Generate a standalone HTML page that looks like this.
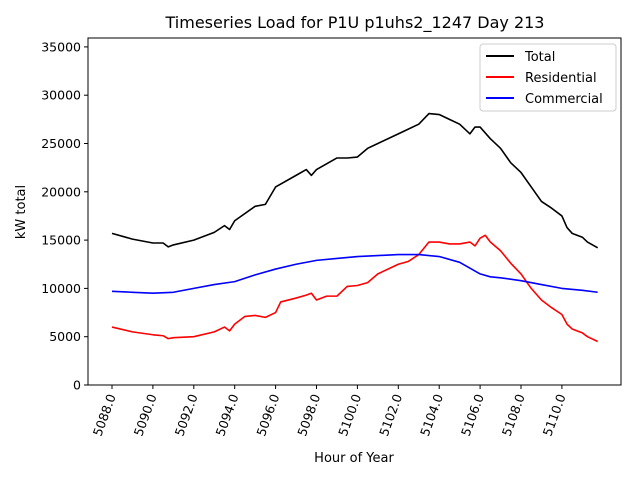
<!DOCTYPE html>
<html><head><meta charset="utf-8"><style>body{margin:0;background:#fff}svg{display:block}text{font-family:"DejaVu Sans","Liberation Sans",sans-serif}</style></head>
<body>
<svg id="chart" width="640" height="480" viewBox="0 0 640 480">
<rect width="640" height="480" fill="#fff"/>
<text x="355" y="28" font-size="16" text-anchor="middle">Timeseries Load for P1U p1uhs2_1247  Day 213</text>
<g id="yticks"></g><g id="xticks"></g>
<g id="series"></g>
<rect x="88" y="38" width="533" height="347" fill="none" stroke="#000" stroke-width="1"/>
<text x="354" y="462" font-size="13" text-anchor="middle">Hour of Year</text>
<text transform="translate(25,212) rotate(-90)" font-size="13" text-anchor="middle">kW total</text>
<g>
<rect x="480" y="44" width="136" height="67" fill="#fff" stroke="#ccc" rx="3"/>
<line x1="486" y1="56" x2="514" y2="56" stroke="#000" stroke-width="2"/><text x="525" y="61" font-size="13">Total</text>
<line x1="486" y1="77" x2="514" y2="77" stroke="red" stroke-width="2"/><text x="525" y="82" font-size="13">Residential</text>
<line x1="486" y1="98" x2="514" y2="98" stroke="blue" stroke-width="2"/><text x="525" y="103" font-size="13">Commercial</text>
</g>
</svg>
<script>
const totalHours=[5088,5089,5090,5090.5,5090.75,5091,5092,5093,5093.5,5093.75,5094,5095,5095.5,5096,5097,5097.5,5097.75,5098,5099,5099.5,5100,5100.5,5101,5102,5103,5103.5,5104,5104.5,5105,5105.5,5105.75,5106,5106.5,5107,5107.5,5108,5108.5,5109,5109.5,5110,5110.25,5110.5,5111,5111.25,5111.75];
const totalValues=[15700,15100,14700,14700,14300,14500,15000,15800,16500,16100,17000,18500,18700,20500,21700,22300,21700,22300,23500,23500,23600,24500,25000,26000,27000,28100,28000,27500,27000,26000,26700,26700,25500,24500,23000,22000,20500,19000,18300,17500,16300,15700,15300,14800,14200];
const resHours=[5088,5089,5090,5090.5,5090.75,5091,5092,5093,5093.5,5093.75,5094,5094.5,5095,5095.5,5096,5096.25,5097,5097.5,5097.75,5098,5098.5,5099,5099.5,5100,5100.5,5101,5102,5102.5,5103,5103.5,5104,5104.5,5105,5105.5,5105.75,5106,5106.25,5106.5,5107,5107.5,5108,5108.5,5109,5109.5,5110,5110.25,5110.5,5111,5111.25,5111.75];
const resValues=[6000,5500,5200,5100,4800,4900,5000,5500,6000,5600,6300,7100,7200,7000,7500,8600,9000,9300,9500,8800,9200,9200,10200,10300,10600,11500,12500,12800,13500,14800,14800,14600,14600,14800,14400,15200,15500,14800,13900,12600,11500,10000,8800,8000,7300,6300,5800,5400,5000,4500];
const comHours=[5088,5089,5090,5091,5092,5093,5094,5095,5096,5097,5098,5099,5100,5101,5102,5103,5104,5105,5106,5106.5,5107,5108,5109,5110,5111,5111.75];
const comValues=[9700,9600,9500,9600,10000,10400,10700,11400,12000,12500,12900,13100,13300,13400,13500,13500,13300,12700,11500,11200,11100,10800,10400,10000,9800,9600];
const yTickValues=[0,5000,10000,15000,20000,25000,30000,35000];
const xTickValues=[5088,5090,5092,5094,5096,5098,5100,5102,5104,5106,5108,5110];
const NS="http://www.w3.org/2000/svg";
function xs(h){return 112+(h-5088)*20.45;}
function ys(v){return 385-v*48.3/5000;}
function mk(tag,attrs,parent){const e=document.createElementNS(NS,tag);for(const k in attrs)e.setAttribute(k,attrs[k]);parent.appendChild(e);return e;}
const yg=document.getElementById('yticks'),xg=document.getElementById('xticks'),sg=document.getElementById('series');
yTickValues.forEach(v=>{const y=ys(v);
 const l=mk('line',{x1:84,x2:88,y1:y,y2:y,stroke:'#000'},yg);
 
 
 const t=mk('text',{x:81,y:y+4.5,'font-size':12.5,'text-anchor':'end'},yg);t.textContent=v;
 
 });
xTickValues.forEach(h=>{const x=xs(h);
 const l=mk('line',{x1:x,x2:x,y1:385,y2:389,stroke:'#000'},xg);
 
 
 const t=mk('text',{transform:`translate(${x+4},396) rotate(-70)`,'font-size':12.5,'text-anchor':'end'},xg);t.textContent=h.toFixed(1);
 
 });
function draw(hs,vs,color,name){const p=mk('polyline',{points:hs.map((h,i)=>xs(h)+','+ys(vs[i])).join(' '),fill:'none',stroke:color,'stroke-width':1.6,'stroke-linejoin':'round'},sg);
 
 }
draw(totalHours,totalValues,'#000','total-line');
draw(resHours,resValues,'red','residential-line');
draw(comHours,comValues,'blue','commercial-line');
</script>
</body></html>
